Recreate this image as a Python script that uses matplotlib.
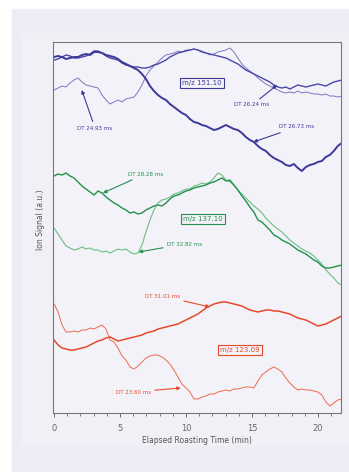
import numpy as np
import matplotlib
matplotlib.use("Agg")
import matplotlib.pyplot as plt
from matplotlib.patches import Rectangle

# elapsed roasting time (min), one sample every ~0.3 min
t = np.linspace(0, 21.8, 73)

# m/z 151.10 (blue)
dt_26_73 = [356, 357, 356, 354, 355, 356, 356, 358, 359, 358,
            361, 361, 360, 358, 357, 356, 354, 351, 349, 347,
            345, 343, 339, 334, 327, 322, 318, 315, 313, 309,
            306, 303, 300, 298, 294, 291, 290, 288, 287, 285,
            283, 284, 286, 288, 286, 284, 283, 280, 276, 273,
            271, 267, 264, 262, 258, 255, 253, 251, 248, 247,
            249, 245, 242, 246, 248, 249, 251, 252, 256, 258,
            262, 267, 270]
dt_26_24 = [353, 354, 356, 358, 357, 355, 355, 356, 357, 359,
            362, 362, 360, 357, 355, 354, 353, 350, 348, 347,
            346, 346, 345, 345, 346, 348, 349, 351, 353, 356,
            358, 360, 361, 362, 363, 364, 363, 361, 360, 359,
            358, 357, 356, 355, 353, 351, 349, 346, 343, 341,
            339, 337, 335, 333, 331, 328, 326, 325, 326, 324,
            326, 328, 327, 326, 327, 328, 329, 328, 327, 329,
            331, 332, 333]
dt_24_93 = [323, 325, 327, 326, 330, 333, 335, 331, 328, 327,
            326, 325, 318, 313, 309, 311, 313, 311, 314, 315,
            316, 321, 328, 337, 343, 347, 351, 355, 358, 359,
            360, 362, 361, 363, 363, 364, 363, 362, 360, 358,
            359, 361, 362, 363, 365, 361, 355, 349, 345, 342,
            339, 335, 332, 329, 327, 325, 323, 321, 320, 321,
            320, 322, 320, 321, 320, 319, 319, 318, 319, 317,
            317, 316, 317]

# m/z 137.10 (green)
dt_28_28 = [237, 239, 238, 240, 237, 235, 231, 227, 224, 221,
            218, 222, 220, 216, 213, 210, 208, 205, 203, 200,
            201, 199, 200, 203, 205, 207, 208, 207, 210, 214,
            217, 218, 220, 222, 223, 225, 226, 227, 228, 230,
            231, 233, 235, 232, 233, 228, 223, 217, 212, 206,
            201, 193, 191, 187, 183, 178, 176, 173, 171, 169,
            166, 163, 161, 159, 156, 153, 151, 147, 145, 145,
            146, 147, 148]
dt_32_82 = [185, 179, 173, 167, 165, 163, 164, 166, 164, 165,
            163, 163, 161, 162, 160, 162, 164, 163, 164, 161,
            159, 160, 168, 181, 193, 203, 210, 213, 214, 216,
            219, 220, 222, 224, 224, 227, 228, 230, 229, 231,
            235, 240, 238, 233, 231, 228, 223, 219, 215, 211,
            207, 204, 200, 195, 191, 187, 184, 181, 177, 173,
            170, 167, 164, 162, 160, 157, 153, 149, 143, 139,
            135, 130, 128]

# m/z 123.09 (red)
dt_31_01 = [73, 68, 65, 64, 63, 63, 64, 65, 66, 68,
            70, 72, 73, 75, 76, 74, 72, 73, 74, 75,
            76, 77, 78, 80, 81, 82, 84, 85, 86, 87,
            88, 89, 91, 93, 95, 97, 99, 102, 105, 107,
            109, 110, 111, 111, 110, 109, 108, 107, 105, 103,
            102, 101, 102, 103, 103, 102, 102, 101, 100, 99,
            97, 95, 94, 93, 91, 89, 87, 88, 89, 91,
            93, 95, 97]
dt_23_60 = [109, 101, 88, 81, 81, 82, 81, 83, 83, 85,
            84, 86, 88, 84, 73, 71, 65, 57, 53, 46,
            44, 47, 51, 55, 57, 58, 58, 56, 53, 49,
            43, 36, 29, 25, 21, 14, 14, 16, 17, 19,
            19, 21, 22, 23, 22, 24, 24, 25, 26, 26,
            25, 32, 38, 41, 44, 46, 44, 41, 35, 30,
            26, 23, 24, 23, 23, 22, 21, 18, 11, 7,
            10, 13, 14]

blue, blue2, blue3 = '#3b399a', '#4a48a8', '#7a78c0'
green, green2 = '#23904e', '#6cbe82'
red, red2 = '#e64a2b', '#ec6a4c'

fig = plt.figure(figsize=(3.49, 4.72), dpi=100, facecolor='white')
# scanned page background
fig.patches.append(Rectangle((12 / 349, 0), 1, 1 - 9 / 472, transform=fig.transFigure,
                             color='#eeecf5', zorder=-2))
fig.patches.append(Rectangle((22 / 349, 27 / 472), 1, 1 - 60 / 472, transform=fig.transFigure,
                             color='#f1f0f7', zorder=-1))

ax = fig.add_axes([53 / 349, 1 - 413 / 472, 288 / 349, 371 / 472])
ax.set_facecolor('#f3f2f8')

ax.plot(t, dt_24_93, color=blue3, lw=0.7)
ax.plot(t, dt_26_24, color=blue2, lw=1.0)
ax.plot(t, dt_26_73, color=blue, lw=1.4)
ax.plot(t, dt_32_82, color=green2, lw=0.8)
ax.plot(t, dt_28_28, color=green, lw=1.0)
ax.plot(t, dt_23_60, color=red2, lw=0.7)
ax.plot(t, dt_31_01, color=red, lw=1.1)

ax.set_xlim(-0.08, 21.74)
ax.set_ylim(0, 371)
ax.set_yticks([])
ax.set_xticks([0, 5, 10, 15, 20])
ax.set_xticks(np.arange(0, 22, 1), minor=True)
ax.tick_params(axis='x', which='major', length=3, width=0.7, color='#666666',
               labelsize=6, labelcolor='#666666', pad=5)
ax.tick_params(axis='x', which='minor', length=2, width=0.6, color='#666666')
for s in ax.spines.values():
    s.set_color('#777777')
    s.set_linewidth(0.8)

ax.set_xlabel('Elapsed Roasting Time (min)', fontsize=5.5, color='#555555', labelpad=2)
ax.set_ylabel('Ion Signal (a.u.)', fontsize=5.5, color='#555555')
ax.yaxis.set_label_coords(-0.045, 0.52)
ax.yaxis.label.set_va('center')

# annotations
def note(text, xy, xytext, color):
    ax.annotate(text, xy=xy, xytext=xytext, fontsize=4, color=color,
                ha='center', va='center',
                arrowprops=dict(arrowstyle='-|>', color=color, lw=0.8,
                                mutation_scale=5, shrinkA=1, shrinkB=0))

note('DT 24.93 ms', (2.1, 323), (3.1, 285), blue)
note('DT 26.24 ms', (16.9, 328), (15.0, 308), blue)
note('DT 26.73 ms', (15.1, 271), (18.4, 286), blue)
note('DT 28.28 ms', (3.7, 220), (6.9, 239), green)
note('DT 32.82 ms', (6.4, 161), (9.9, 169), green)
note('DT 31.01 ms', (11.8, 106), (8.2, 117), red)
note('DT 23.60 ms', (9.6, 25), (6.0, 21), red)

for label, xy, color in [('m/z 151.10', (11.2, 330), blue),
                         ('m/z 137.10', (11.3, 194), green),
                         ('m/z 123.09', (14.1, 63), red)]:
    ax.text(xy[0], xy[1], label, fontsize=5, color=color, ha='center', va='center',
            bbox=dict(boxstyle='square,pad=0.3', fc='none', ec=color, lw=0.8))

fig.savefig('out.png', dpi=100)
